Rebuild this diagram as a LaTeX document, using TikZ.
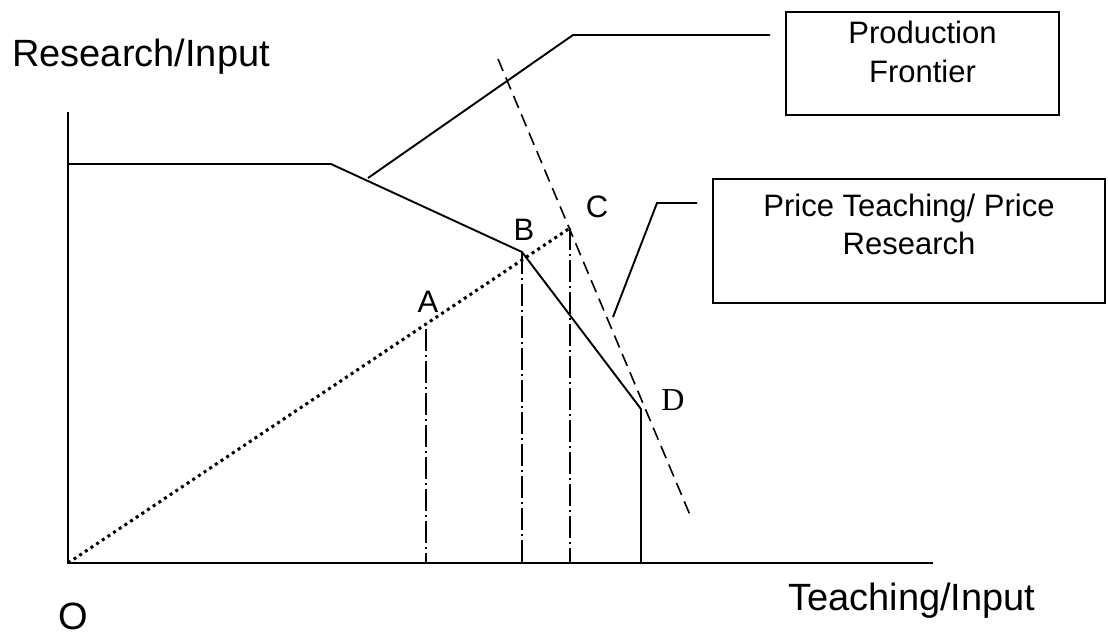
\documentclass[tikz,border=0pt]{standalone}
\usepackage{fontspec}
\setmainfont{Liberation Sans}
\newfontfamily\timesfont{Liberation Serif}
\usepackage{tikz}
\usetikzlibrary{positioning, calc}

\begin{document}
\begin{tikzpicture}[
        x=1pt, y=-1pt,
        axisline/.style={line width=2.1pt},
        frontline/.style={line width=1.9pt, line join=miter},
        rayline/.style={line width=3pt, dash pattern=on 3pt off 3.8pt},
        priceline/.style={line width=1.6pt, dash pattern=on 13pt off 7pt},
        dropline/.style={line width=1.8pt, dash pattern=on 22pt off 4pt on 2pt off 4pt},
        infobox/.style={draw, line width=1.9pt, inner sep=0pt},
        boxtext/.style={align=center, inner sep=0pt, font=\fontsize{31}{39}\selectfont},
        axislabel/.style={inner sep=0pt, font=\fontsize{38}{44}\selectfont},
        pointlabel/.style={inner sep=0pt, font=\fontsize{31}{36}\selectfont}
    ]
        \useasboundingbox (0,0) rectangle (1108,637);

        \coordinate (O) at (68,563);
        \coordinate (ytop) at (68,112);
        \coordinate (xend) at (933,563);
        \coordinate (F0) at (68,164);
        \coordinate (F1) at (331,164);
        \coordinate (B) at (522,252);
        \coordinate (D) at (641,409);
        \coordinate (A) at (426,329);
        \coordinate (C) at (570,228);
        \coordinate (P1) at (498,59);
        \coordinate (P2) at (690,515);

        \draw[axisline] (ytop) -- (O) -- (xend);
        \draw[frontline] (F0) -- (F1) -- (B) -- (D) -- (D |- O);
        \draw[rayline] (O) -- (C);
        \draw[priceline] (P1) -- (P2);
        \foreach \p in {A, B, C}
            \draw[dropline] (\p) -- (\p |- O);

        \node[axislabel, anchor=base west] (ylab) at (12,66) {Research/Input};
        \node[axislabel, anchor=base west] (xlab) at (788,610) {Teaching/Input};
        \node[axislabel] (labO) at (73,616) {O};
        \node[pointlabel] (labA) at (428,302) {A};
        \node[pointlabel] (labB) at (524,230) {B};
        \node[pointlabel] (labC) at (597,207) {C};
        \node[pointlabel, font=\timesfont\fontsize{32}{36}\selectfont] (labD) at (673,400) {D};

        \node[infobox, minimum width=273pt, minimum height=103pt] (pfbox) at (922.5,63.5) {};
        \node[boxtext, below=10pt of pfbox.north] (pftext) {Production\\Frontier};
        \node[infobox, minimum width=392pt, minimum height=124pt] (ptbox) at (909,241) {};
        \node[boxtext, below=16pt of ptbox.north, font=\fontsize{31}{38}\selectfont] (pttext) {Price Teaching/ Price\\Research};

        \coordinate (pftip) at (368,178);
        \coordinate (pfbend) at (573,35);
        \coordinate (pttip) at (613,317);
        \coordinate (ptbend) at (657,203);
        \draw[frontline] (pftip) -- (pfbend) -- ([xshift=-15pt]pfbox.west |- pfbend);
        \draw[frontline] (pttip) -- (ptbend) -- ([xshift=-15pt]ptbox.west |- ptbend);
    \end{tikzpicture}
\end{document}
